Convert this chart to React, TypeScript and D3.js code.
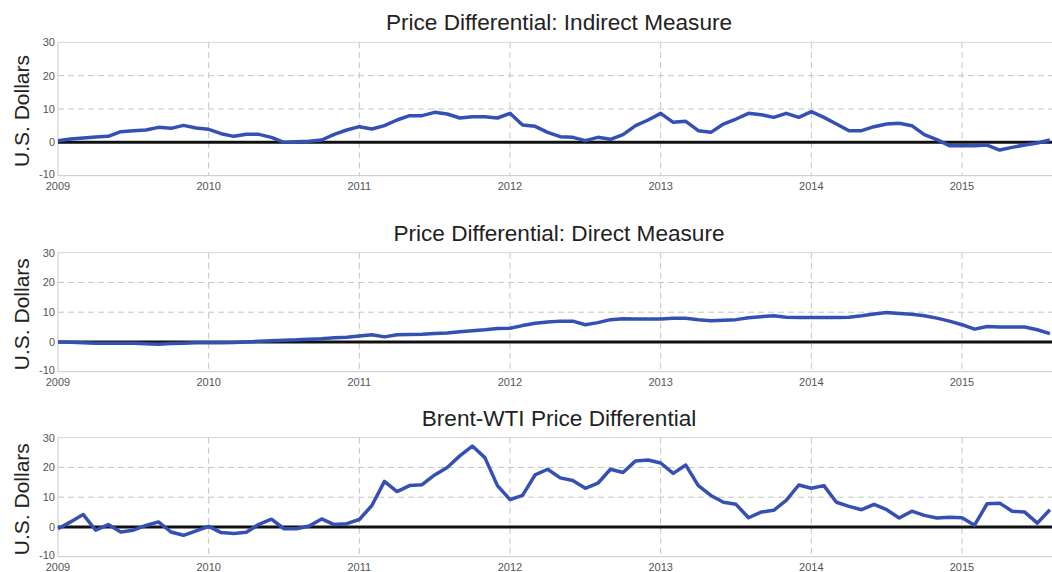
import React from "react";
import * as d3 from "d3";

const years = [2009, 2010, 2011, 2012, 2013, 2014, 2015];
const yTicks = [-10, 0, 10, 20, 30];

const indirect = [
  0.5, 1.0, 1.3, 1.6, 1.8, 3.2, 3.5, 3.7, 4.5, 4.2, 5.1, 4.3,
  3.9, 2.6, 1.8, 2.4, 2.4, 1.5, 0.0, 0.2, 0.3, 0.7, 2.4, 3.7,
  4.7, 4.0, 5.0, 6.7, 8.0, 8.0, 9.0, 8.5, 7.3, 7.7, 7.7, 7.3,
  8.7, 5.2, 4.8, 3.0, 1.7, 1.5, 0.5, 1.5, 0.9, 2.3, 5.0, 6.7,
  8.7, 6.0, 6.3, 3.5, 3.0, 5.5, 7.0, 8.7, 8.3, 7.5, 8.7, 7.5,
  9.2, 7.5, 5.5, 3.5, 3.5, 4.7, 5.5, 5.7, 5.0, 2.3, 0.8, -1.0,
  -1.0, -1.0, -0.8, -2.3, -1.5, -0.8, -0.2, 0.7,
];

const direct = [
  0.0, -0.1, -0.3, -0.4, -0.4, -0.4, -0.4, -0.6, -0.8, -0.5, -0.4, -0.3,
  -0.3, -0.3, -0.2, 0.0, 0.2, 0.4, 0.6, 0.7, 0.9, 1.1, 1.4, 1.6,
  2.0, 2.4, 1.7, 2.4, 2.5, 2.6, 2.8, 3.0, 3.4, 3.8, 4.1, 4.5,
  4.6, 5.5, 6.3, 6.7, 7.0, 7.0, 5.8, 6.5, 7.5, 7.8, 7.7, 7.7,
  7.7, 8.0, 8.0, 7.5, 7.1, 7.3, 7.5, 8.1, 8.5, 8.8, 8.3, 8.2,
  8.2, 8.2, 8.2, 8.3, 8.8, 9.4, 9.9, 9.6, 9.3, 8.8, 8.0, 7.0,
  5.8, 4.3, 5.2, 5.0, 5.0, 5.0, 4.1, 2.8,
];

const brentWti = [
  -0.6, 1.7, 4.2, -1.1, 0.8, -1.7, -1.1, 0.5, 1.7, -1.7, -2.8, -1.3,
  0.2, -1.9, -2.2, -1.8, 0.9, 2.6, -0.6, -0.6, 0.3, 2.7, 0.8, 1.1,
  2.5, 7.2, 15.3, 11.9, 13.9, 14.2, 17.5, 20.0, 23.9, 27.2, 23.3, 13.9,
  9.2, 10.6, 17.5, 19.4, 16.5, 15.6, 13.0, 14.7, 19.4, 18.3, 22.2, 22.5,
  21.5, 18.0, 20.8, 13.9, 10.6, 8.3, 7.6, 3.1, 5.0, 5.6, 8.9, 14.1,
  13.0, 13.9, 8.3, 6.9, 5.8, 7.6, 5.8, 3.0, 5.3, 3.9, 3.0, 3.3,
  3.1, 0.6, 7.8, 8.0, 5.3, 5.0, 1.3, 5.8,
];

const titles = [
  "Price Differential: Indirect Measure",
  "Price Differential: Direct Measure",
  "Brent-WTI Price Differential",
];
const seriesList = [indirect, direct, brentWti];

const layouts = [
  { top: 42.3, bottom: 175.7, titleY: 30, xLabY: 190 },
  { top: 252.7, bottom: 371.7, titleY: 241, xLabY: 386 },
  { top: 437.7, bottom: 556.7, titleY: 426, xLabY: 571 },
];

const LEFT = 58;
const RIGHT = 1052;
const MONTH_PX = (962 - 58) / 72;

const FONT = "'Liberation Sans', Arial, Helvetica, sans-serif";

function Panel({ idx }: { idx: number }) {
  const L = layouts[idx];
  const data = seriesList[idx];
  const x = d3.scaleLinear().domain([0, (RIGHT - LEFT) / MONTH_PX]).range([LEFT, RIGHT]);
  const y = d3.scaleLinear().domain([-10, 30]).range([L.bottom, L.top]);
  const line = d3
    .line<number>()
    .x((_, i) => x(i))
    .y((d) => y(d));
  const cy = (L.top + L.bottom) / 2 + 2;
  return (
    <g>
      <text x={559} y={L.titleY} textAnchor="middle" fontSize={22.6} fill="#222" fontFamily={FONT}>
        {titles[idx]}
      </text>
      <text
        transform={`translate(29,${cy}) rotate(-90)`}
        textAnchor="middle"
        fontSize={21}
        fill="#222"
        fontFamily={FONT}
      >
        U.S. Dollars
      </text>
      {yTicks.filter((t) => t === 10 || t === 20).map((t) => (
        <line key={"h" + t} x1={LEFT} x2={RIGHT} y1={y(t)} y2={y(t)} stroke="#c4c4c4" strokeWidth={1} strokeDasharray="6,4" />
      ))}
      {years.slice(1).map((yr) => {
        const xv = x((yr - 2009) * 12);
        return <line key={"v" + yr} x1={xv} x2={xv} y1={L.top} y2={L.bottom} stroke="#c4c4c4" strokeWidth={1} strokeDasharray="6,4" />;
      })}
      <line x1={LEFT} x2={RIGHT} y1={L.top} y2={L.top} stroke="#d4d4d4" strokeWidth={1} />
      <line x1={LEFT} x2={RIGHT} y1={L.bottom} y2={L.bottom} stroke="#c8c8c8" strokeWidth={1} />
      <line x1={LEFT} x2={LEFT} y1={L.top} y2={L.bottom} stroke="#c8c8c8" strokeWidth={1} />
      {yTicks.map((t) => (
        <text key={"yt" + t} x={55} y={y(t) + (t === -10 ? 2 : 4)} textAnchor="end" fontSize={11} fill="#555" fontFamily={FONT}>
          {t}
        </text>
      ))}
      {years.map((yr) => (
        <text key={"xt" + yr} x={x((yr - 2009) * 12)} y={L.xLabY} textAnchor="middle" fontSize={11} fill="#555" fontFamily={FONT}>
          {yr}
        </text>
      ))}
      <line x1={LEFT} x2={RIGHT} y1={y(0)} y2={y(0)} stroke="#111" strokeWidth={3} />
      <path d={line(data) || ""} fill="none" stroke="#3550b4" strokeWidth={3.5} strokeLinejoin="round" />
    </g>
  );
}

export default function App() {
  return (
    <svg
      width={1052}
      height={572}
      style={{ position: "absolute", left: 0, top: 0, background: "#fff" }}
    >
      <rect width={1052} height={572} fill="#fff" />
      {[0, 1, 2].map((i) => (
        <Panel key={i} idx={i} />
      ))}
    </svg>
  );
}
